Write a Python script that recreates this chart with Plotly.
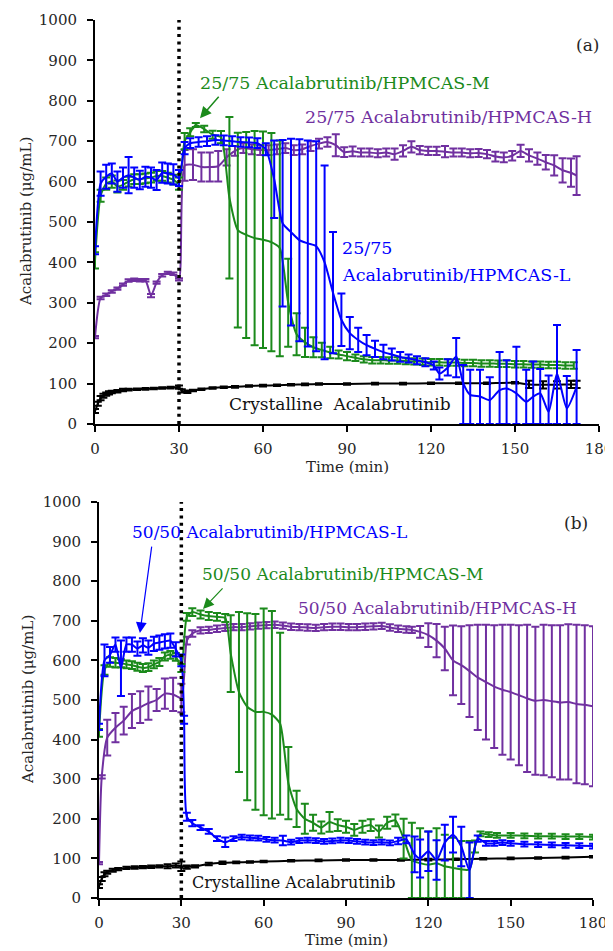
import plotly.graph_objects as go

# ---------------- Panel (a): 25/75 dispersions ----------------
a_cry_t = [0, 1, 2, 3, 4, 5, 6, 8, 10, 12, 15, 18, 21, 24, 27, 30, 31, 33, 35, 38, 42, 46, 50, 55, 60, 65, 70, 75, 80, 90, 100, 110, 120, 130, 140, 150, 155, 160, 165, 170, 172]
a_cry_v = [32, 50, 64, 70, 74, 77, 79, 81, 84, 85, 86, 87, 88, 89, 90, 91, 82, 80, 83, 86, 89, 91, 92, 94, 95, 96, 97, 98, 99, 99, 100, 100, 101, 101, 101, 102, 98, 97, 97, 98, 98]
a_cry_e = [5, 5, 5, 5, 4, 4, 3, 3, 3, 2, 2, 2, 2, 2, 2, 4, 4, 3, 2, 2, 2, 2, 2, 2, 2, 2, 2, 2, 2, 2, 2, 2, 2, 2, 2, 2, 9, 9, 9, 9, 9]

a_H_t = [0, 2, 4, 6, 8, 10, 12, 14, 16, 18, 20, 22, 24, 26, 28, 30, 32, 35, 38, 41, 44, 47, 50, 53, 56, 59, 62, 65, 68, 71, 74, 77, 80, 83, 86, 89, 92, 95, 98, 101, 104, 107, 110, 113, 116, 119, 122, 125, 128, 131, 134, 137, 140, 143, 146, 149, 152, 155, 158, 161, 164, 167, 170, 172]
a_H_v = [215, 312, 320, 328, 335, 345, 355, 357, 356, 356, 318, 350, 368, 374, 372, 358, 640, 642, 636, 636, 638, 660, 676, 683, 680, 678, 678, 680, 683, 678, 680, 688, 694, 698, 690, 673, 675, 672, 672, 670, 672, 668, 676, 686, 678, 676, 676, 674, 672, 672, 670, 671, 668, 662, 660, 664, 676, 665, 657, 648, 640, 628, 622, 615]
a_H_e = [3, 3, 3, 3, 3, 3, 3, 3, 3, 3, 4, 3, 3, 3, 3, 3, 38, 38, 36, 36, 38, 20, 12, 12, 12, 12, 12, 12, 12, 12, 12, 12, 12, 12, 27, 12, 12, 10, 10, 10, 10, 14, 14, 14, 10, 10, 10, 14, 10, 10, 10, 10, 10, 12, 12, 12, 15, 15, 15, 18, 25, 30, 35, 48]

a_M_t = [0, 2, 4, 6, 8, 10, 12, 14, 16, 18, 20, 22, 24, 26, 28, 30, 32, 34, 36, 39, 42, 45, 48, 51, 54, 57, 60, 63, 66, 69, 72, 75, 78, 81, 84, 87, 90, 93, 96, 99, 102, 105, 108, 111, 114, 117, 120, 123, 126, 129, 132, 135, 138, 141, 144, 147, 150, 153, 156, 159, 162, 165, 168, 171]
a_M_v = [405, 565, 595, 600, 588, 592, 600, 606, 606, 608, 610, 614, 614, 610, 605, 595, 700, 722, 740, 730, 716, 710, 560, 480, 468, 460, 456, 450, 435, 300, 222, 202, 190, 183, 177, 172, 168, 164, 160, 158, 158, 157, 157, 156, 155, 154, 153, 153, 152, 152, 151, 151, 150, 150, 149, 149, 148, 148, 147, 147, 146, 146, 145, 145]
a_M_e = [20, 15, 15, 15, 15, 12, 12, 12, 12, 12, 12, 12, 12, 12, 12, 15, 20, 10, 5, 8, 10, 15, 200, 241, 255, 265, 268, 270, 267, 109, 52, 36, 25, 18, 14, 10, 10, 8, 8, 8, 8, 8, 8, 8, 8, 8, 8, 8, 8, 8, 8, 8, 8, 8, 8, 8, 8, 8, 8, 8, 8, 8, 8, 8]

a_L_t = [0, 2, 4, 6, 8, 10, 12, 14, 16, 18, 20, 22, 24, 26, 28, 30, 32, 34, 37, 40, 43, 46, 49, 52, 55, 58, 61, 64, 67, 70, 73, 76, 79, 82, 85, 88, 91, 94, 97, 100, 103, 106, 109, 112, 115, 118, 121, 123, 126, 129, 131.5, 134, 137.5, 141, 144.5, 147, 150.5, 154, 156.5, 159, 162, 165, 168.5, 172]
a_L_v = [430, 595, 612, 620, 600, 610, 616, 610, 604, 612, 610, 604, 622, 620, 618, 609, 683, 695, 698, 700, 703, 702, 700, 698, 697, 695, 680, 606, 497, 475, 455, 447, 440, 400, 325, 258, 225, 208, 195, 186, 178, 172, 166, 162, 158, 153, 145, 125, 140, 167, 101, 72, 68, 59, 84, 88, 76, 55, 68, 76, 30, 125, 39, 92]
a_L_ep = [10, 30, 30, 25, 25, 25, 45, 25, 23, 25, 25, 25, 25, 25, 25, 20, 15, 12, 12, 12, 12, 12, 12, 12, 12, 12, 15, 96, 206, 231, 250, 255, 260, 240, 150, 65, 40, 30, 25, 20, 18, 15, 12, 10, 10, 10, 10, 15, 20, 46, 45, 62, 66, 57, 94, 70, 115, 79, 87, 60, 90, 120, 80, 91]
a_L_em = [10, 30, 30, 25, 25, 25, 45, 25, 23, 25, 25, 25, 25, 25, 25, 20, 15, 12, 12, 12, 12, 12, 12, 12, 12, 12, 15, 96, 206, 231, 250, 255, 260, 240, 150, 65, 40, 30, 25, 20, 18, 15, 12, 10, 10, 10, 10, 15, 20, 51, 101, 72, 68, 59, 84, 88, 76, 55, 68, 76, 30, 125, 39, 92]

# ---------------- Panel (b): 50/50 dispersions ----------------
b_cry_t = [0, 1, 2, 3, 5, 7, 10, 13, 16, 19, 22, 25, 28, 30, 32, 35, 40, 45, 50, 55, 60, 70, 80, 90, 100, 110, 120, 130, 140, 150, 160, 170, 180]
b_cry_v = [30, 48, 60, 65, 70, 73, 76, 77, 78, 79, 80, 80, 82, 80, 78, 80, 86, 89, 90, 91, 92, 94, 95, 96, 96, 96, 97, 98, 99, 100, 101, 102, 104]
b_cry_e = [5, 5, 5, 4, 4, 3, 3, 3, 3, 3, 3, 5, 5, 12, 4, 3, 3, 3, 2, 2, 2, 2, 2, 2, 2, 2, 2, 2, 2, 2, 2, 2, 2]

b_H_t = [0, 1, 3, 6, 9, 12, 15, 18, 21, 24, 27, 30, 32, 34, 37, 40, 43, 46, 49, 52, 55, 58, 61, 64, 67, 70, 73, 76, 79, 82, 85, 88, 91, 94, 97, 100, 103, 106, 109, 112, 114, 117, 120, 123, 126, 129, 132, 135, 138, 141, 144, 147, 150, 153, 156, 159, 162, 165, 168, 171, 174, 177, 180]
b_H_v = [88, 306, 405, 430, 448, 472, 482, 492, 500, 516, 514, 505, 650, 668, 676, 677, 680, 682, 684, 684, 686, 688, 689, 690, 688, 685, 684, 683, 682, 684, 685, 685, 684, 684, 685, 686, 687, 683, 680, 678, 677, 672, 664, 650, 630, 600, 588, 573, 557, 545, 534, 526, 520, 512, 504, 498, 500, 497, 494, 495, 490, 488, 484]
b_H_e = [3, 4, 45, 37, 35, 43, 40, 42, 28, 38, 42, 36, 10, 8, 8, 8, 8, 8, 8, 8, 8, 8, 8, 8, 8, 8, 8, 8, 8, 8, 8, 8, 8, 8, 8, 8, 8, 8, 8, 8, 8, 15, 30, 42, 55, 88, 98, 116, 133, 145, 155, 164, 170, 177, 186, 187, 190, 192, 195, 196, 200, 201, 202]

b_M_t = [0, 2, 4, 6, 8, 10, 12, 14, 16, 18, 20, 22, 24, 26, 28, 30, 32, 34, 37, 40, 43, 46, 48, 51, 54, 57, 60, 63, 66, 69, 72, 75, 78, 81, 84, 87, 90, 93, 96, 99, 102, 105, 108, 111, 114, 117, 120, 123, 126, 129, 132, 135, 137, 139, 142, 145, 150, 155, 160, 165, 170, 175, 180]
b_M_v = [417, 576, 596, 594, 593, 590, 588, 584, 581, 583, 590, 596, 610, 614, 609, 581, 710, 722, 716, 712, 710, 707, 617, 520, 483, 470, 470, 463, 440, 290, 225, 200, 190, 178, 192, 184, 180, 172, 180, 184, 168, 190, 196, 150, 95, 88, 84, 88, 80, 76, 72, 72, 130, 162, 160, 158, 158, 157, 156, 156, 155, 155, 154]
b_M_e = [10, 12, 12, 12, 10, 10, 10, 10, 10, 10, 10, 10, 10, 10, 10, 10, 10, 10, 10, 10, 10, 10, 97, 202, 236, 247, 261, 262, 230, 91, 46, 38, 20, 15, 25, 15, 15, 15, 15, 15, 15, 15, 15, 50, 95, 88, 84, 88, 80, 76, 72, 72, 15, 6, 6, 6, 6, 6, 6, 6, 6, 6, 6]

b_L_t = [0, 2, 4, 6, 8, 10, 12, 14, 16, 18, 20, 22, 24, 26, 28, 30, 31, 32, 34, 37, 40, 43, 46, 49, 52, 55, 58, 61, 64, 67, 70, 73, 76, 79, 82, 85, 88, 91, 94, 97, 100, 103, 106, 109, 112, 115, 117, 120, 123, 126, 129, 132, 135, 138, 141, 144, 147, 150, 155, 160, 165, 170, 175, 180]
b_L_v = [432, 600, 614, 640, 580, 640, 640, 630, 638, 632, 642, 645, 648, 650, 628, 600, 450, 205, 189, 178, 168, 150, 141, 150, 154, 152, 151, 148, 146, 145, 141, 145, 146, 145, 143, 144, 146, 145, 143, 141, 140, 141, 139, 144, 148, 110, 100, 118, 96, 140, 160, 130, 70, 150, 138, 138, 140, 138, 136, 135, 134, 133, 132, 131]
b_L_e = [8, 40, 20, 18, 70, 18, 18, 18, 18, 18, 18, 18, 18, 18, 18, 15, 10, 10, 8, 6, 6, 6, 12, 6, 6, 6, 6, 6, 6, 12, 6, 6, 6, 6, 6, 6, 6, 6, 6, 6, 6, 6, 6, 8, 10, 45, 48, 50, 50, 45, 45, 50, 70, 8, 6, 6, 6, 6, 6, 6, 6, 6, 6, 6]

# ---------------- styling ----------------
C_BLACK = "#000000"
C_PURPLE = "#7030A0"
C_GREEN = "#1B8A1B"
C_BLUE = "#0000FF"
FONT = "DejaVu Serif"

fig = go.Figure()


def add_series(t, v, ep, em, color, xa, ya):
    err = dict(type="data", array=ep, color=color, thickness=2, width=4, visible=True)
    if em is not None:
        err["symmetric"] = False
        err["arrayminus"] = em
    fig.add_trace(go.Scatter(
        x=t, y=v, mode="lines", xaxis=xa, yaxis=ya,
        line=dict(color=color, width=2, shape="spline", smoothing=0.6),
        error_y=err, showlegend=False, hoverinfo="skip"))


add_series(a_cry_t, a_cry_v, a_cry_e, None, C_BLACK, "x", "y")
add_series(a_H_t, a_H_v, a_H_e, None, C_PURPLE, "x", "y")
add_series(a_M_t, a_M_v, a_M_e, None, C_GREEN, "x", "y")
add_series(a_L_t, a_L_v, a_L_ep, a_L_em, C_BLUE, "x", "y")

add_series(b_cry_t, b_cry_v, b_cry_e, None, C_BLACK, "x2", "y2")
add_series(b_H_t, b_H_v, b_H_e, None, C_PURPLE, "x2", "y2")
add_series(b_M_t, b_M_v, b_M_e, None, C_GREEN, "x2", "y2")
add_series(b_L_t, b_L_v, b_L_e, None, C_BLUE, "x2", "y2")

# the page body has an 8px margin, so the figure is sized/positioned to compensate
OFF = 8
W, H = 613 - OFF, 951 - OFF


def fx(p):
    return (p - OFF) / W


def fy(p):
    return 1 - (p - OFF) / H


axis_common = dict(
    range=[0, 180], tickvals=[0, 30, 60, 90, 120, 150, 180],
    showline=True, linecolor="black", linewidth=2, automargin=False,
    ticks="outside", ticklen=6, tickwidth=2, tickcolor="black",
    showgrid=False, zeroline=False, ticklabelstandoff=4, ticklabeloverflow="allow",
    tickfont=dict(family=FONT, size=15, color="#262626"),
)
yaxis_common = dict(
    range=[0, 1000], tickvals=list(range(0, 1001, 100)),
    showline=True, linecolor="black", linewidth=2, automargin=False,
    ticks="outside", ticklen=6, tickwidth=2, tickcolor="black",
    showgrid=False, zeroline=False, ticklabelstandoff=7,
    tickfont=dict(family=FONT, size=15, color="#262626"),
)

fig.update_layout(
    width=W, height=H, autosize=False,
    margin=dict(l=0, r=0, t=0, b=0, pad=0),
    paper_bgcolor="white", plot_bgcolor="white",
    xaxis=dict(domain=[fx(95), fx(599)], anchor="y", **axis_common),
    yaxis=dict(domain=[fy(424), fy(20)], anchor="x", **yaxis_common),
    xaxis2=dict(domain=[fx(99), fx(593)], anchor="y2", **axis_common),
    yaxis2=dict(domain=[fy(898), fy(502)], anchor="x2", **yaxis_common),
)

# dotted vertical lines at 30 min
for xr, yr in (("x", "y"), ("x2", "y2")):
    fig.add_shape(type="line", xref=xr, yref=yr, x0=30, x1=30, y0=0, y1=1000,
                  line=dict(color="black", width=3.5, dash="3px,4.3px"), layer="above")

ann = []


def txt(text, x, y, xr, yr, color, size, xanchor="left"):
    ann.append(dict(text=text, x=x, y=y, xref=xr, yref=yr, showarrow=False,
                    xanchor=xanchor, yanchor="middle",
                    font=dict(family=FONT, size=size, color=color)))


def arrow(x, y, ax, ay, xr, yr, color, w, s):
    ann.append(dict(text="", x=x, y=y, xref=xr, yref=yr, ax=ax, ay=ay,
                    showarrow=True, arrowhead=2, arrowsize=s,
                    arrowwidth=w, arrowcolor=color))


# panel (a) labels
txt("25/75 Acalabrutinib/HPMCAS-M", 36.8, 844, "x", "y", C_GREEN, 17.5)
txt("25/75 Acalabrutinib/HPMCAS-H", 74.3, 760, "x", "y", C_PURPLE, 17.5)
txt("25/75", 87.5, 436, "x", "y", C_BLUE, 17.5)
txt("Acalabrutinib/HPMCAS-L", 87.5, 369, "x", "y", C_BLUE, 17.5)
txt("Crystalline  Acalabrutinib", 47.1, 50, "x", "y", "#111111", 17)
arrow(37.5, 757, 20, -23, "x", "y", C_GREEN, 1.5, 1.5)

# panel (b) labels
txt("50/50 Acalabrutinib/HPMCAS-L", 11.3, 924, "x2", "y2", C_BLUE, 17)
txt("50/50 Acalabrutinib/HPMCAS-M", 36.8, 818, "x2", "y2", C_GREEN, 17)
txt("50/50 Acalabrutinib/HPMCAS-H", 71.8, 732, "x2", "y2", C_PURPLE, 17)
txt("Crystalline Acalabrutinib", 33.2, 40, "x2", "y2", "#111111", 16)
arrow(14.9, 669, 12, -88, "x2", "y2", C_BLUE, 1.2, 1.8)
arrow(37.9, 730, 21, -22, "x2", "y2", C_GREEN, 1.2, 1.8)

# panel letters
txt("(a)", fx(587), fy(45), "paper", "paper", "#262626", 17, xanchor="center")
txt("(b)", fx(576), fy(523), "paper", "paper", "#262626", 17, xanchor="center")

# axis titles
txt("Time (min)", fx(347), fy(467), "paper", "paper", "#262626", 15, xanchor="center")
txt("Time (min)", fx(346), fy(940), "paper", "paper", "#262626", 15, xanchor="center")
for yy, xx in ((222, 26), (700, 28)):
    ann.append(dict(text="Acalabrutinib (μg/mL)", x=fx(xx), y=fy(yy), xref="paper", yref="paper",
                    showarrow=False, textangle=-90, xanchor="center", yanchor="middle",
                    font=dict(family=FONT, size=15, color="#262626")))

fig.update_layout(annotations=ann)
fig.write_html("out.html")
